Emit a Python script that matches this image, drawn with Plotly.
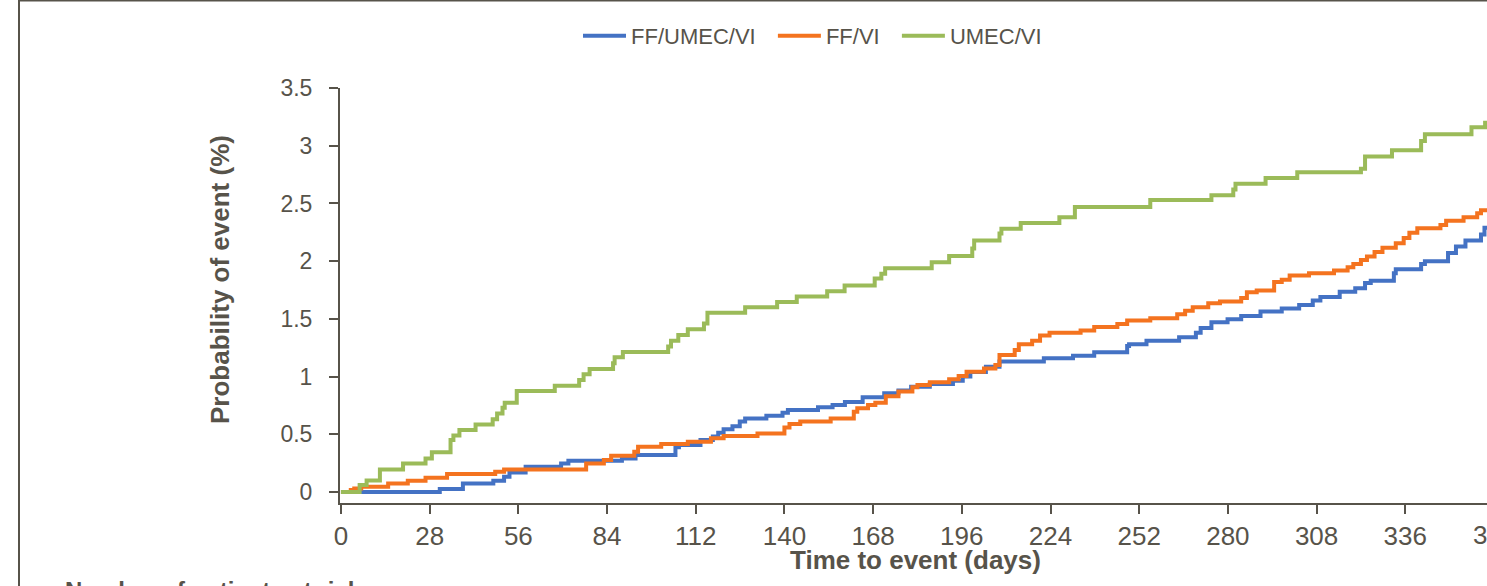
import plotly.graph_objects as go

# ---------------- data (step change points: day, cumulative probability %) ----------------
blue_days = [0, 31.2, 38.5, 48.1, 51.5, 53.2, 58.3, 69.5, 71.8, 88.7, 93, 105.6, 106.7, 113.5,
             117.4, 119.1, 120.8, 123.6, 125.9, 127.6, 134.3, 139.4, 141.1, 150.6, 155.2, 159.1,
             164.7, 171.5, 176, 180, 185.9, 193.2, 196.3, 198.7, 203.6, 207.9, 221.9, 231.1,
             237.8, 248.2, 248.8, 254.3, 264.6, 269.9, 271.4, 274.8, 279.9, 284.2, 290.3, 297,
             302.5, 306.8, 309.2, 315.3, 320.2, 323.3, 325.1, 332.4, 333, 341, 342.2, 349.5,
             352, 355, 359.9, 361, 362]
blue_vals = [0, 0.026, 0.075, 0.098, 0.133, 0.17, 0.22, 0.248, 0.27, 0.29, 0.32, 0.387, 0.407, 0.45,
             0.48, 0.514, 0.543, 0.57, 0.61, 0.638, 0.66, 0.687, 0.71, 0.734, 0.754, 0.78,
             0.82, 0.855, 0.88, 0.913, 0.936, 0.965, 1.0, 1.04, 1.086, 1.13, 1.158, 1.18,
             1.21, 1.265, 1.28, 1.31, 1.34, 1.38, 1.42, 1.47, 1.496, 1.525, 1.563, 1.59,
             1.62, 1.66, 1.69, 1.736, 1.765, 1.81, 1.83, 1.895, 1.93, 1.976, 2.0, 2.07,
             2.126, 2.18, 2.23, 2.29, 2.29]

orange_days = [0, 3.1, 4.2, 6.4, 14.9, 21.1, 26.7, 33.5, 48.7, 51.5, 77.4, 83, 85.3, 92.6, 93.8,
               101.1, 109.5, 116.8, 120.8, 131.5, 140, 141.6, 145, 154.6, 161.9, 163, 166.4,
               168.7, 172, 176, 180.4, 182, 185.9, 192, 195, 197.5, 203, 206.6, 207.9, 212.7,
               214, 218.2, 220.7, 223.7, 233.5, 237.8, 245.1, 248.2, 255.5, 264, 266.5, 268.9,
               273.8, 277.5, 284.2, 286, 289.1, 294.6, 297, 299.5, 305.6, 313.5, 317.8, 319.6,
               322, 323.9, 326.3, 328.8, 333, 335.5, 337.3, 339.8, 347.1, 348.9, 354.4, 358.7,
               359.9, 362]
orange_vals = [0, 0.017, 0.03, 0.046, 0.075, 0.098, 0.124, 0.156, 0.176, 0.196, 0.248, 0.277, 0.315,
               0.35, 0.393, 0.416, 0.436, 0.465, 0.485, 0.508, 0.56, 0.59, 0.61, 0.638, 0.696,
               0.725, 0.754, 0.774, 0.83, 0.87, 0.907, 0.927, 0.95, 0.976, 1.005, 1.043, 1.07,
               1.1, 1.187, 1.23, 1.28, 1.31, 1.355, 1.38, 1.40, 1.43, 1.456, 1.485, 1.505, 1.54,
               1.57, 1.60, 1.635, 1.65, 1.68, 1.73, 1.745, 1.82, 1.84, 1.875, 1.895, 1.92, 1.947,
               1.976, 2.01, 2.04, 2.08, 2.117, 2.155, 2.2, 2.247, 2.285, 2.314, 2.35, 2.38,
               2.415, 2.44, 2.44]

green_days = [0, 5.9, 8.1, 12.3, 19.6, 26.7, 28.7, 34.6, 35.5, 37.4, 42.5, 47.9, 49.3, 51, 51.7,
              55.5, 67.5, 75.2, 76.6, 78.5, 85.9, 86.4, 89, 103.3, 104.2, 106.5, 109.5, 114.6,
              115.7, 127.6, 137.7, 143.9, 153.5, 159, 168.5, 170.6, 171.8, 186.5, 192, 199.3,
              199.9, 207.9, 208.5, 214.6, 226.8, 231.7, 255.5, 274.8, 281.7, 282.4, 291.9,
              301.9, 322, 323.3, 331.8, 341, 342.2, 356.9, 361.2, 362]
green_vals = [0, 0.06, 0.10, 0.196, 0.248, 0.29, 0.344, 0.45, 0.49, 0.537, 0.586, 0.63, 0.68, 0.73,
              0.774, 0.875, 0.92, 0.97, 1.02, 1.066, 1.115, 1.167, 1.213, 1.26, 1.31, 1.36, 1.41,
              1.46, 1.554, 1.60, 1.646, 1.693, 1.74, 1.79, 1.85, 1.89, 1.938, 1.99, 2.045, 2.11,
              2.18, 2.24, 2.28, 2.33, 2.38, 2.47, 2.53, 2.57, 2.62, 2.67, 2.72, 2.77, 2.80,
              2.906, 2.96, 3.04, 3.10, 3.16, 3.2, 3.2]

series_names = ["FF/UMEC/VI", "FF/VI", "UMEC/VI"]
series_colors = ["#4472C4", "#F4731F", "#9BBB59"]

x_ticks = [0, 28, 56, 84, 112, 140, 168, 196, 224, 252, 280, 308, 336, 364]
y_ticks = [0, 0.5, 1, 1.5, 2, 2.5, 3, 3.5]
y_ticktext = ["0", "0.5", "1", "1.5", "2", "2.5", "3", "3.5"]

# ---------------- figure ----------------
TEXT = "#57534a"
FONT = "Liberation Sans, Arial, sans-serif"
PAD = "\u00a0\u00a0"   # spacing after legend labels

fig = go.Figure()
for i, (name, color, xs, ys) in enumerate(zip(series_names, series_colors,
                                              [blue_days, orange_days, green_days],
                                              [blue_vals, orange_vals, green_vals])):
    label = name + (PAD if i < len(series_names) - 1 else "")
    fig.add_trace(go.Scatter(x=xs, y=ys, mode="lines", name=label,
                             line=dict(color=color, width=4, shape="hv")))

W, H = 1487, 586
L, R, T, B = 340, 0, 88, 83
pw, ph = W - L - R, H - T - B

def px_x(p):
    return (p - L) / pw

def px_y(p):
    return (H - B - p) / ph

fig.update_layout(
    width=W, height=H,
    margin=dict(l=L, r=R, t=T, b=B),
    paper_bgcolor="white", plot_bgcolor="white",
    font=dict(family=FONT, color=TEXT),
    showlegend=True,
    legend=dict(orientation="h", x=px_x(578), xanchor="left", y=px_y(36), yanchor="middle",
                font=dict(size=22, family=FONT, color=TEXT), itemwidth=43,
                bgcolor="rgba(0,0,0,0)", traceorder="normal"),
    xaxis=dict(range=[-0.3, 361.8], tickvals=x_ticks, showgrid=False, zeroline=False,
               showline=True, linecolor=TEXT, linewidth=2, ticks="outside", ticklen=9,
               tickwidth=2, tickcolor=TEXT, tickfont=dict(size=26, family=FONT, color=TEXT),
               ticklabelstandoff=0),
    yaxis=dict(range=[-0.095, 3.5], tickvals=y_ticks, ticktext=y_ticktext, showgrid=False,
               zeroline=False, showline=True, linecolor=TEXT, linewidth=2, ticks="outside",
               ticklen=9, tickwidth=2, tickcolor=TEXT, tickfont=dict(size=23, family=FONT, color=TEXT),
               ticklabelstandoff=12),
)

# x-axis title
fig.add_annotation(text="<b>Time to event (days)</b>", xref="paper", yref="paper",
                   x=px_x(915), y=px_y(560), showarrow=False,
                   xanchor="center", yanchor="middle",
                   font=dict(size=26, family=FONT, color=TEXT))

# y-axis title (rotated), centred where the original places it
fig.add_annotation(text="<b>Probability of event (%)</b>", xref="paper", yref="paper",
                   x=px_x(220), y=px_y(280), textangle=-90, showarrow=False,
                   xanchor="center", yanchor="middle",
                   font=dict(size=26, family=FONT, color=TEXT))

# last tick label, clipped by the right edge of the picture
fig.add_annotation(text="364", xref="paper", yref="paper", x=px_x(1494.5), y=px_y(535),
                   showarrow=False, xanchor="center", yanchor="middle",
                   font=dict(size=26, family=FONT, color=TEXT))

# start of the risk table caption, clipped at the bottom
fig.add_annotation(text="<b>Number of patients at risk</b>", xref="paper", yref="paper",
                   x=px_x(63), y=px_y(575), showarrow=False, xanchor="left", yanchor="top",
                   font=dict(size=24, family=FONT, color=TEXT))

# outer frame of the original figure
fig.add_shape(type="rect", xref="paper", yref="paper",
              x0=px_x(19), x1=px_x(1600), y0=px_y(700), y1=px_y(0.5),
              line=dict(color=TEXT, width=2), fillcolor="rgba(0,0,0,0)", layer="below")

fig.write_html("out.html", config={"displayModeBar": False},
               post_script="document.body.style.margin='0px';document.body.style.overflow='hidden';")
